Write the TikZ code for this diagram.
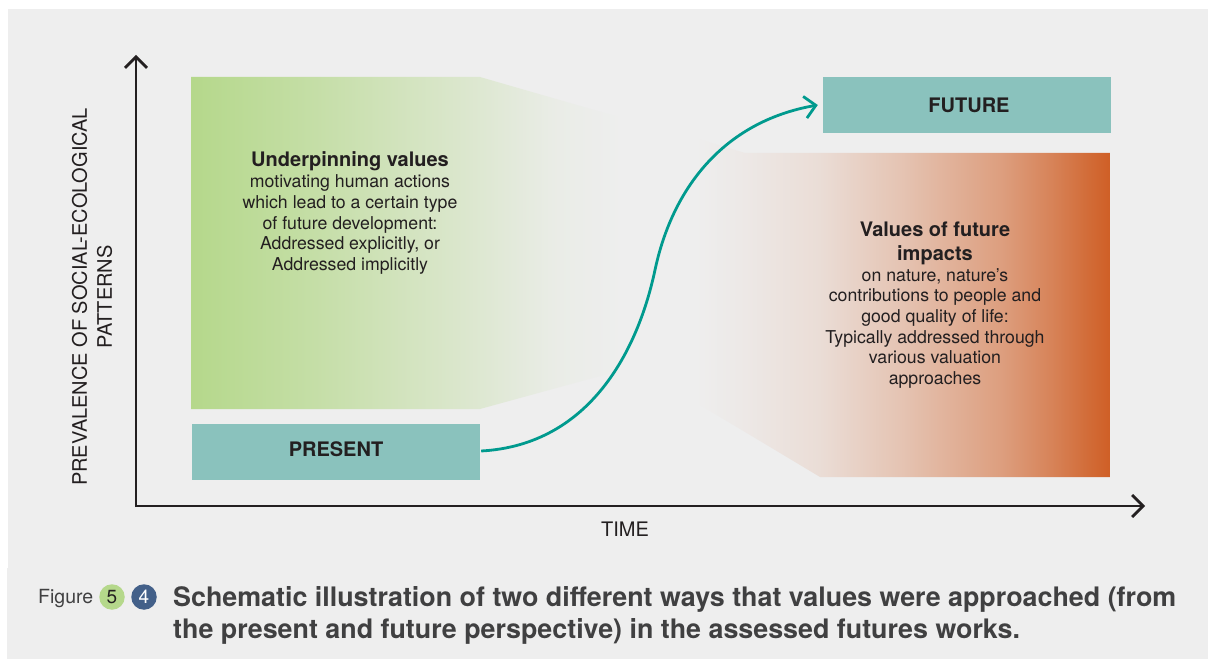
\documentclass[tikz,border=0pt]{standalone}
\usepackage{fontspec}
\setmainfont{TeX Gyre Heros}
\usetikzlibrary{arrows.meta}
\definecolor{bgc}{HTML}{EEEEEE}
\definecolor{tealbox}{HTML}{8AC2BD}
\definecolor{tealline}{HTML}{009A8E}
\definecolor{inkc}{HTML}{231F20}
\definecolor{capc}{HTML}{404041}
\definecolor{greenc}{HTML}{B5D88B}
\definecolor{orangec}{HTML}{CF5F26}
\definecolor{bluec}{HTML}{436089}
\pgfdeclarehorizontalshading{greenfade}{100bp}{
 color(0bp)=(greenc);
 color(25bp)=(greenc);
 color(38bp)=(greenc!75!bgc);
 color(49bp)=(greenc!50!bgc);
 color(58bp)=(greenc!30!bgc);
 color(67bp)=(greenc!8!bgc);
 color(75bp)=(bgc);
 color(100bp)=(bgc)}
\pgfdeclarehorizontalshading{orangefade}{100bp}{
 color(0bp)=(bgc);
 color(25bp)=(bgc);
 color(31bp)=(orangec!4!bgc);
 color(40bp)=(orangec!12!bgc);
 color(50bp)=(orangec!30!bgc);
 color(62bp)=(orangec!56!bgc);
 color(68bp)=(orangec!75!bgc);
 color(72.6bp)=(orangec!92!bgc);
 color(75bp)=(orangec);
 color(100bp)=(orangec)}
\newcommand{\headfont}{\fontsize{20}{24}\selectfont\bfseries}
\newcommand{\copyfont}{\fontsize{17.7}{20.7}\selectfont\mdseries}
\tikzset{
 px/.style={x=1pt,y=-1pt},
 tealnode/.style={draw=none,fill=tealbox,minimum width=#1,minimum height=56pt,inner sep=0pt,font=\fontsize{20}{24}\selectfont\bfseries,text=inkc},
 axisline/.style={draw=inkc,line width=2.7pt,-{Straight Barb[length=11pt,width=22pt,line width=2.7pt]}},
 flowline/.style={draw=tealline,line width=2.8pt,-{Straight Barb[length=11pt,width=22pt,line width=2.8pt]}},
 bodytext/.style={align=center,inner sep=0pt,text=inkc,font=\copyfont},
 axistext/.style={align=center,inner sep=0pt,text=inkc,font=\fontsize{20}{25}\selectfont},
 badge/.style={circle,minimum size=25.5pt,inner sep=0pt,font=\fontsize{19}{22}\selectfont},
 captext/.style={inner sep=0pt,text=capc,anchor=west},
}
\begin{document}
\begin{tikzpicture}[px]
\useasboundingbox (0,0) rectangle (1208,660);
\fill[white] (0,0) rectangle (1208,660);
\fill[bgc] (8,9) rectangle (1208,568);
\fill[bgc] (7,568) rectangle (1208,659);
% green area
\begin{scope}
\clip (191,77) -- (480,77) -- (622,118) -- (622,370) -- (480,409) -- (191,409) -- cycle;
\shade[shading=greenfade] (191,77) rectangle (622,409);
\end{scope}
% orange area
\begin{scope}
\clip (1110,153) -- (745,153) -- (695,138) -- (695,402) -- (820,477) -- (1110,477) -- cycle;
\shade[shading=orangefade] (695,138) rectangle (1110,477);
\end{scope}
% axes
\coordinate (origin) at (136,506);
\coordinate (ytop) at (136,55);
\coordinate (xend) at (1145,506);
\draw[axisline] (136,507) -- (ytop);
\draw[axisline] (135,506) -- (xend);
% boxes
\node[tealnode=288pt] (present) at (336,452) {\raisebox{5pt}{PRESENT}};
\node[tealnode=288pt] (future) at (967,105) {\hspace*{4pt}\raisebox{-1pt}{FUTURE}};
\draw[flowline] ([xshift=1pt,yshift=1pt]present.east) .. controls (590,445) and (638,350) .. (655,270) .. controls (672,190) and (722,122) .. ([xshift=-5pt]future.west);
% texts
\node[bodytext,anchor=north] (under) at (350,151) {\headfont Underpinning values\\[1pt]\copyfont motivating human actions\\\copyfont which lead to a certain type\\\copyfont of future development:\\\copyfont Addressed explicitly, or\\\copyfont Addressed implicitly};
\node[bodytext,anchor=north] (impacts) at (935,222) {\headfont Values of future\\[3pt]\headfont impacts\\\copyfont on nature, nature’s\\\copyfont contributions to people and\\\copyfont good quality of life:\\\copyfont Typically addressed through\\\copyfont various valuation\\\copyfont approaches};
\node[axistext,rotate=90] (ylabel) at (92,297) {PREVALENCE OF SOCIAL-ECOLOGICAL\\PATTERNS};
\node[axistext] (xlabel) at (625,529) {TIME};
% caption
\node[captext,font=\fontsize{19.5}{22}\selectfont] (figlabel) at (38,599) {Figure};
\node[badge,fill=greenc,text=inkc] (five) at (112,597) {5};
\node[badge,fill=bluec,text=white] (four) at (144,597) {4};
\node[captext,anchor=north west,align=left,font=\fontsize{26.84}{32.5}\selectfont\bfseries] (caption) at (173,586) {Schematic illustration of two different ways that values were approached (from\\the present and future perspective) in the assessed futures works.};
\end{tikzpicture}
\end{document}
